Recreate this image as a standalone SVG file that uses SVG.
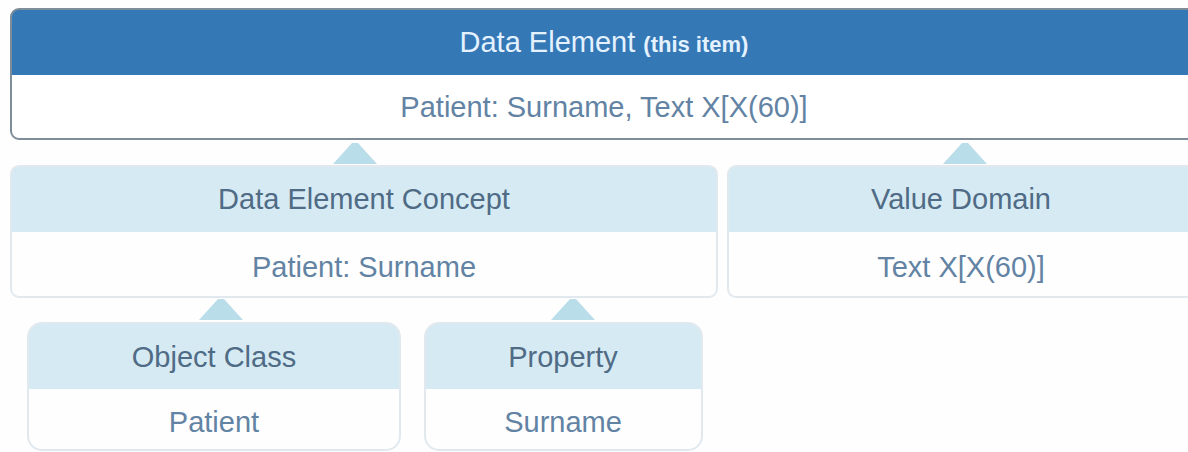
<svg xmlns="http://www.w3.org/2000/svg" width="1188" height="452" viewBox="0 0 1188 452">
<defs>
<style>
.t{font-family:"Liberation Sans",Arial,sans-serif;text-anchor:middle}
.hd{fill:#d6eaf3}
.lbl{font-size:29px;fill:#4f6b85}
.val{font-size:29px;fill:#6283a3}
.frame{fill:none;stroke:#e1e9ef;stroke-width:2}
.tri{fill:#b9dde9}
</style>
</defs>
<rect width="1188" height="452" fill="#fefefe"/>
<g id="connectors">
<polygon class="tri" points="333,164 377,164 358,143 352,143"/>
<polygon class="tri" points="943,164 987,164 968,143 962,143"/>
<polygon class="tri" points="199,320 243,320 224,299 218,299"/>
<polygon class="tri" points="551,320 595,320 576,299 570,299"/>
</g>
<g id="data-element">
<path d="M11,75 V17 a8,8 0 0 1 8,-8 H1200 V75 Z" fill="#3578b6"/>
<path d="M11,75 H1200 V139 H19 a8,8 0 0 1 -8,-8 Z" fill="#ffffff"/>
<path d="M1200,9 H19 a8,8 0 0 0 -8,8 V131 a8,8 0 0 0 8,8 H1200" fill="none" stroke="#7f8c9a" stroke-width="2"/>
<text class="t" x="604" y="52"><tspan font-size="29" fill="#e4f2ff">Data Element </tspan><tspan font-size="22" font-weight="bold" fill="#e4f2ff">(this item)</tspan></text>
<text class="t val" x="604" y="117">Patient: Surname, Text X[X(60)]</text>
</g>
<g id="data-element-concept">
<path d="M11,232 V174 a8,8 0 0 1 8,-8 H709 a8,8 0 0 1 8,8 V232 Z" class="hd"/>
<rect x="11" y="166" width="706" height="131" rx="8" class="frame"/>
<text class="t lbl" x="364" y="209">Data Element Concept</text>
<text class="t val" x="364" y="277">Patient: Surname</text>
</g>
<g id="value-domain">
<path d="M728,232 V174 a8,8 0 0 1 8,-8 H1200 V232 Z" class="hd"/>
<path d="M1200,166 H736 a8,8 0 0 0 -8,8 V289 a8,8 0 0 0 8,8 H1200" class="frame"/>
<text class="t lbl" x="961" y="209">Value Domain</text>
<text class="t val" x="961" y="277">Text X[X(60)]</text>
</g>
<g id="object-class">
<path d="M28,389 V337 a14,14 0 0 1 14,-14 H386 a14,14 0 0 1 14,14 V389 Z" class="hd"/>
<rect x="28" y="323" width="372" height="127" rx="14" class="frame"/>
<text class="t lbl" x="214" y="367">Object Class</text>
<text class="t val" x="214" y="432">Patient</text>
</g>
<g id="property">
<path d="M425,389 V337 a14,14 0 0 1 14,-14 H688 a14,14 0 0 1 14,14 V389 Z" class="hd"/>
<rect x="425" y="323" width="277" height="127" rx="14" class="frame"/>
<text class="t lbl" x="563" y="367">Property</text>
<text class="t val" x="563" y="432">Surname</text>
</g>
</svg>
